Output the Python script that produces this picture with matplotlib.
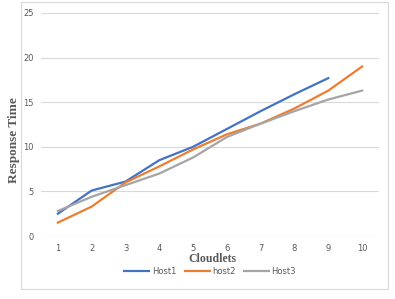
import matplotlib
matplotlib.use('Agg')

import matplotlib.pyplot as plt
from matplotlib.patches import Rectangle

cloudlets = [1, 2, 3, 4, 5, 6, 7, 8, 9, 10]
host1 = [2.5, 5.1, 6.1, 8.5, 10.0, 12.0, 14.0, 15.9, 17.7]
host2 = [1.5, 3.3, 6.0, 7.8, 9.7, 11.4, 12.6, 14.3, 16.3, 19.0]
host3 = [2.8, 4.4, 5.7, 7.0, 8.8, 11.1, 12.6, 14.0, 15.3, 16.3]
y_ticks = [0, 5, 10, 15, 20, 25]

W, H = 395, 299
fig = plt.figure(figsize=(W / 100, H / 100), dpi=100)
fig.patches.append(Rectangle((21 / W, 1 - 289 / H), 367 / W, 287 / H,
                             transform=fig.transFigure, fill=False,
                             edgecolor='#d9d9d9', linewidth=0.8))

ax = fig.add_axes([41 / W, 63 / H, 338 / W, 223 / H])
ax.plot(cloudlets[:len(host1)], host1, color='#4472C4', lw=1.6, label='Host1')
ax.plot(cloudlets, host2, color='#ED7D31', lw=1.6, label='host2')
ax.plot(cloudlets, host3, color='#A5A5A5', lw=1.6, label='Host3')

ax.set_xlim(0.5, 10.5)
ax.set_ylim(0, 25)
ax.set_xticks(cloudlets)
ax.set_yticks(y_ticks)
ax.grid(axis='y', color='#d9d9d9', lw=0.8)
ax.set_axisbelow(True)
for s in ax.spines.values():
    s.set_visible(False)
ax.tick_params(length=0, labelsize=6, labelcolor='#595959')
ax.tick_params(axis='x', pad=6)
ax.tick_params(axis='y', pad=5)

# axis titles placed in figure pixels
fig.text(14 / W, 1 - 140 / H, 'Response Time', rotation=90, ha='center', va='center',
         fontfamily='Liberation Serif', fontweight='bold', fontsize=9.5, color='#595959')
fig.text(212 / W, 1 - 259 / H, 'Cloudlets', ha='center', va='center',
         fontfamily='Liberation Serif', fontweight='bold', fontsize=8.5, color='#595959')

ax.legend(loc='center', bbox_to_anchor=(0.5, -34 / 223 - 0.005), ncol=3, frameon=False,
          fontsize=6, handlelength=3, columnspacing=1.0, handletextpad=0.3,
          labelcolor='#595959')

fig.savefig('out.png', dpi=100)
